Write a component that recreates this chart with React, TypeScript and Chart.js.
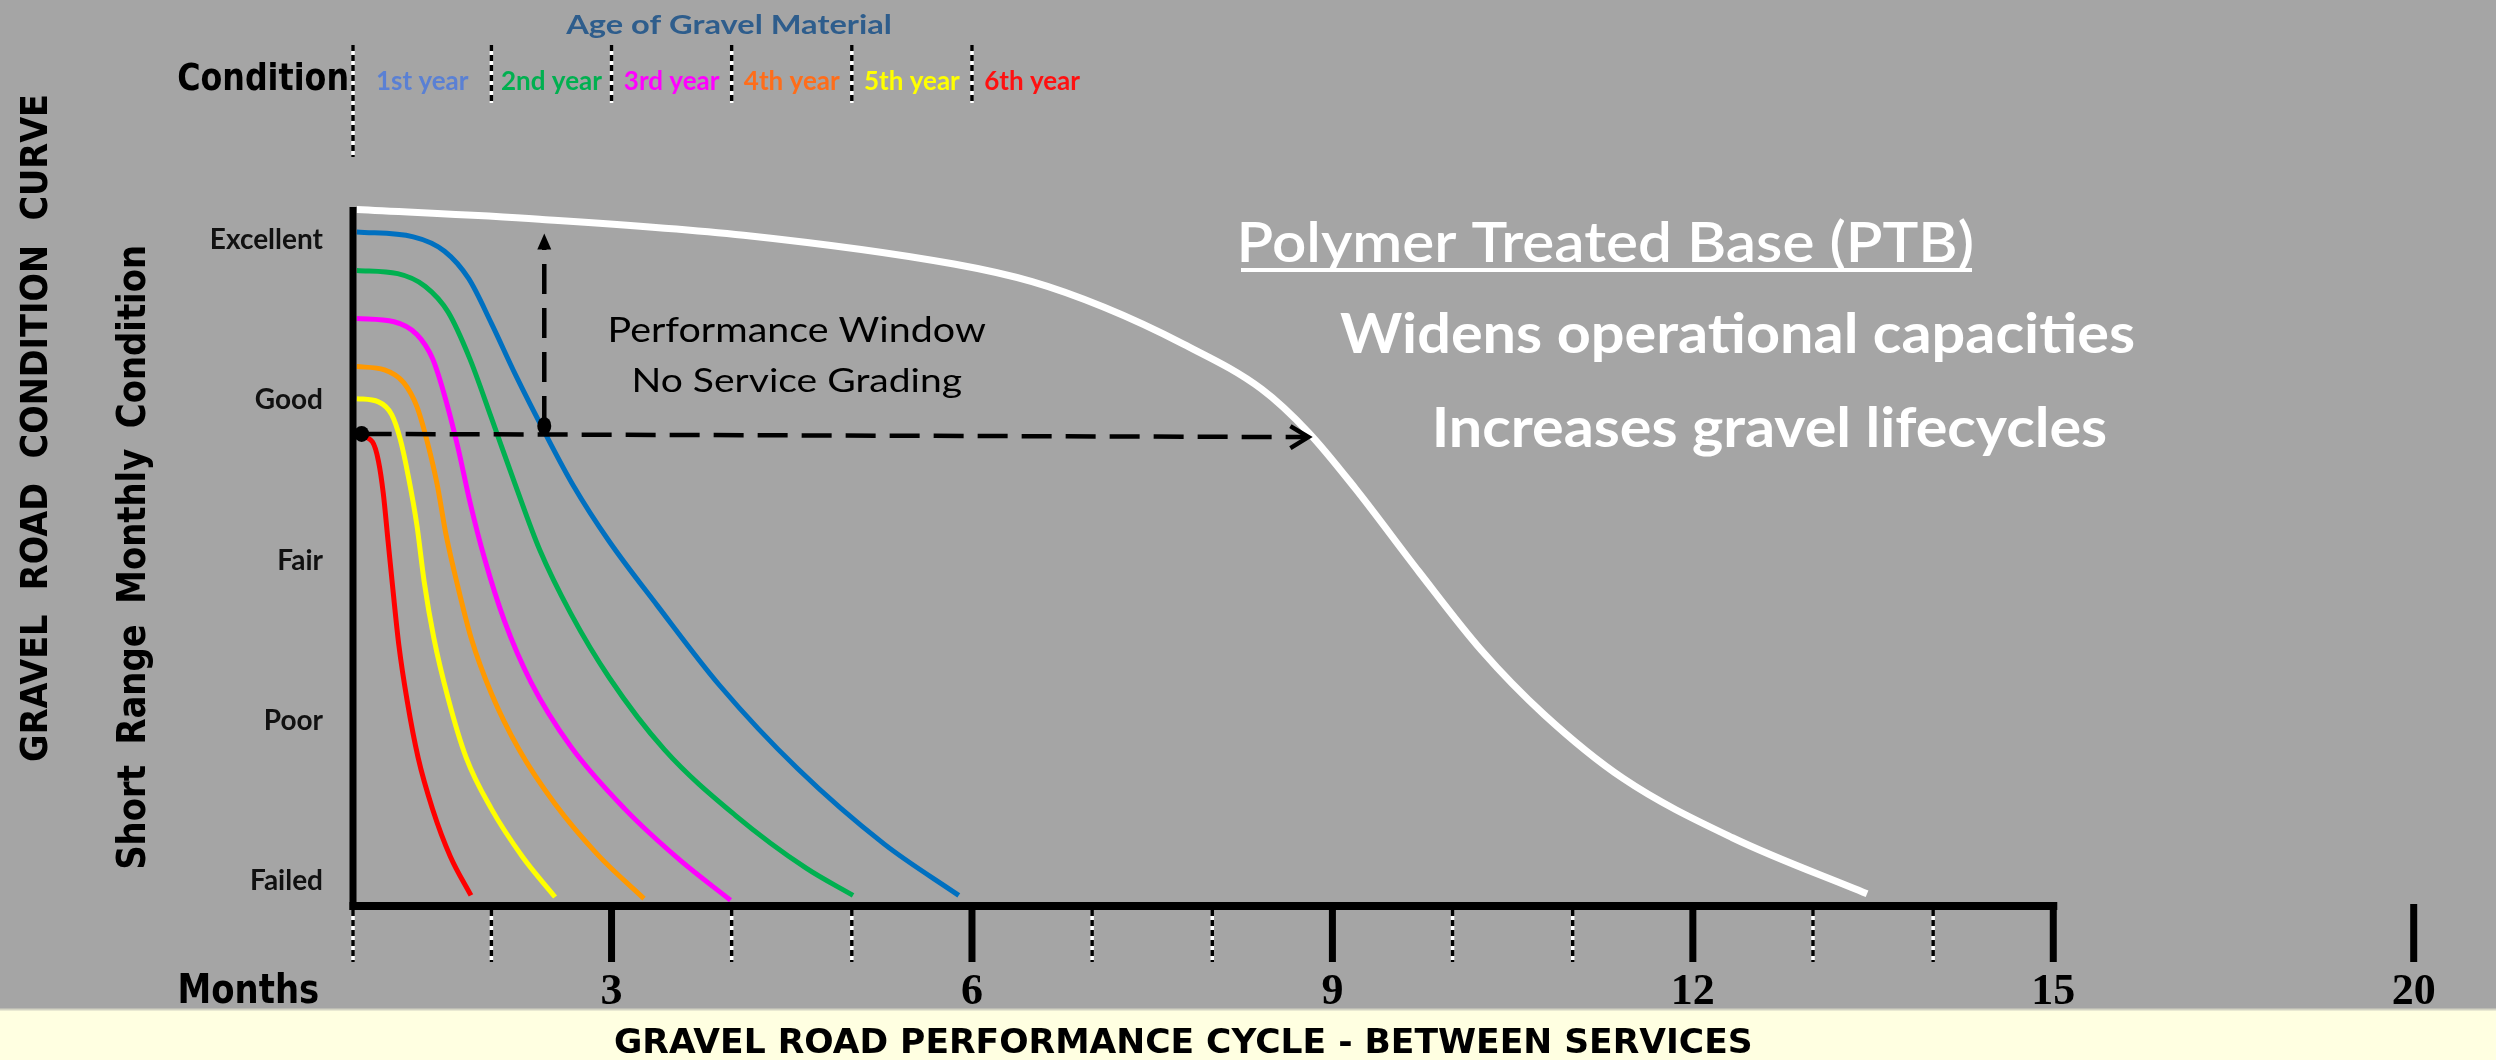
import React, { useEffect, useRef } from "react";
import { Chart, registerables } from "chart.js";

Chart.register(...registerables);

// ---------- axis ranges ----------
const X_MIN = 0.848;
const X_MAX = 18.32;
const Y_MIN = -0.156;
const Y_MAX = 4.206;

// ---------- tick labels ----------
const conditionValues = [0, 1, 2, 3, 4];
const conditionLabels = ["Failed", "Poor", "Fair", "Good", "Excellent"];
const monthTicks = [3, 6, 9, 12, 15, 18];
const monthTickLabels = ["3", "6", "9", "12", "15", "20"];
const minorMonthTicks = [X_MIN, 2, 4, 5, 7, 8, 10, 11, 13, 14];

// ---------- legend (age of gravel) ----------
const yearLabels = ["1st year", "2nd year", "3rd year", "4th year", "5th year", "6th year"];
const yearTextColors = ["#5a80d4", "#00b050", "#ff00ff", "#ff6d1a", "#ffff00", "#ff1010"];
const yearBounds = [X_MIN, 2, 3, 4, 5, 6, 7];

// ---------- series: [month, condition] ----------
const ptbCurve = [
  [0.88, 4.19], [2.4, 4.13], [4.1, 4.03], [5.85, 3.85], [6.5, 3.74], [7.1, 3.58],
  [7.76, 3.35], [8.41, 3.07], [8.8, 2.8], [9.19, 2.45], [9.72, 1.93], [10.24, 1.44],
  [10.76, 1.04], [11.42, 0.64], [12.33, 0.27], [13.45, -0.08],
];
const year1Curve = [
  [0.88, 4.05], [1.35, 4.02], [1.61, 3.93], [1.81, 3.76], [2.0, 3.48], [2.2, 3.16],
  [2.45, 2.79], [2.68, 2.47], [2.98, 2.12], [3.38, 1.72], [3.9, 1.22], [4.55, 0.7],
  [5.27, 0.23], [5.89, -0.09],
];
const year2Curve = [
  [0.88, 3.81], [1.22, 3.79], [1.45, 3.71], [1.64, 3.55], [1.82, 3.26], [2.0, 2.89],
  [2.2, 2.47], [2.4, 2.07], [2.66, 1.67], [2.98, 1.27], [3.44, 0.82], [4.03, 0.41],
  [4.62, 0.08], [5.01, -0.09],
];
const year3Curve = [
  [0.88, 3.51], [1.19, 3.49], [1.38, 3.41], [1.51, 3.26], [1.61, 3.03], [1.72, 2.71],
  [1.82, 2.37], [1.94, 2.02], [2.11, 1.62], [2.33, 1.24], [2.66, 0.84], [3.11, 0.45],
  [3.57, 0.13], [3.99, -0.12],
];
const year4Curve = [
  [0.88, 3.21], [1.11, 3.19], [1.27, 3.11], [1.38, 2.96], [1.47, 2.73], [1.55, 2.47],
  [1.62, 2.17], [1.72, 1.84], [1.83, 1.52], [2.0, 1.17], [2.23, 0.82], [2.53, 0.48],
  [2.89, 0.16], [3.27, -0.11],
];
const year5Curve = [
  [0.88, 3.01], [1.06, 2.99], [1.17, 2.91], [1.24, 2.76], [1.31, 2.52], [1.38, 2.22],
  [1.44, 1.87], [1.52, 1.52], [1.64, 1.14], [1.79, 0.77], [2.0, 0.45], [2.26, 0.15],
  [2.53, -0.1],
];
const year6Curve = [
  [0.9, 2.78], [1.01, 2.74], [1.06, 2.62], [1.1, 2.42], [1.14, 2.12], [1.18, 1.82],
  [1.23, 1.47], [1.3, 1.12], [1.39, 0.77], [1.51, 0.45], [1.66, 0.15], [1.83, -0.09],
];

const seriesList = [
  { label: "PTB", data: ptbCurve, color: "#ffffff", width: 7 },
  { label: "1st year", data: year1Curve, color: "#0070c0", width: 5 },
  { label: "2nd year", data: year2Curve, color: "#00b050", width: 5 },
  { label: "3rd year", data: year3Curve, color: "#ff00ff", width: 5 },
  { label: "4th year", data: year4Curve, color: "#ff9900", width: 5 },
  { label: "5th year", data: year5Curve, color: "#ffff00", width: 5 },
  { label: "6th year", data: year6Curve, color: "#ff0000", width: 5 },
];

// ---------- performance window annotation (data units) ----------
const windowHorizontal = [[0.92, 2.79], [8.8, 2.77]];
const windowVertical = [[2.44, 2.84], [2.44, 4.04]];

function drawFitted(
  ctx: CanvasRenderingContext2D,
  text: string,
  x: number,
  y: number,
  length: number,
  cap: number,
  weight: string,
  family: string,
  color: string,
  rotated = false,
  wordSpacing = "0px"
) {
  ctx.save();
  ctx.textAlign = "left";
  ctx.textBaseline = "alphabetic";
  ctx.font = `${weight} 100px ${family}`;
  const capRatio = ctx.measureText("H").actualBoundingBoxAscent / 100;
  const size = cap / capRatio;
  ctx.font = `${weight} ${size}px ${family}`;
  (ctx as any).wordSpacing = wordSpacing;
  const m = ctx.measureText(text);
  const ink = m.actualBoundingBoxLeft + m.actualBoundingBoxRight;
  const sx = length / ink;
  ctx.translate(x, y);
  if (rotated) ctx.rotate(-Math.PI / 2);
  ctx.scale(sx, 1);
  ctx.fillStyle = color;
  ctx.fillText(text, m.actualBoundingBoxLeft, 0);
  ctx.restore();
}

const decorPlugin = {
  id: "decor",
  beforeDraw(chart: any) {
    const { ctx, width, height } = chart;
    ctx.save();
    ctx.fillStyle = "#a5a5a5";
    ctx.fillRect(0, 0, width, height);
    ctx.fillStyle = "#ffffe1";
    ctx.fillRect(0, 1010, width, height - 1010);
    ctx.fillStyle = "#d4d4c4";
    ctx.fillRect(0, 1008.5, width, 2);
    ctx.restore();
  },
  afterDatasetsDraw(chart: any) {
    const { ctx, chartArea } = chart;
    const xs = chart.scales.x;
    const ys = chart.scales.y;
    const px = (v: number) => xs.getPixelForValue(v);
    const py = (v: number) => ys.getPixelForValue(v);
    const bottom = chartArea.bottom;
    const left = chartArea.left;

    ctx.save();
    // ---- axes ----
    ctx.strokeStyle = "#000";
    ctx.lineCap = "butt";
    ctx.lineWidth = 7;
    ctx.beginPath();
    ctx.moveTo(left, chartArea.top);
    ctx.lineTo(left, bottom + 4);
    ctx.stroke();
    ctx.lineWidth = 8;
    ctx.beginPath();
    ctx.moveTo(left - 3.5, bottom);
    ctx.lineTo(px(15) + 4, bottom);
    ctx.stroke();

    // ---- major ticks ----
    ctx.lineWidth = 7;
    monthTicks.forEach((v) => {
      const x = px(v);
      ctx.beginPath();
      ctx.moveTo(x, v === 18 ? bottom - 2 : bottom);
      ctx.lineTo(x, bottom + 56);
      ctx.stroke();
    });

    // ---- minor (dashed) ticks ----
    const dashedLine = (x: number, y0: number, y1: number) => {
      ctx.save();
      ctx.lineWidth = 3.5;
      ctx.strokeStyle = "#ffffff";
      ctx.setLineDash([]);
      ctx.beginPath();
      ctx.moveTo(x, y0);
      ctx.lineTo(x, y1);
      ctx.stroke();
      ctx.strokeStyle = "#000";
      ctx.setLineDash([6, 4]);
      ctx.beginPath();
      ctx.moveTo(x, y0);
      ctx.lineTo(x, y1);
      ctx.stroke();
      ctx.restore();
    };
    minorMonthTicks.forEach((v) => dashedLine(px(v), bottom + 4, bottom + 56));

    // ---- legend header ----
    yearBounds.slice(0, 6).forEach((v, i) => dashedLine(px(v), 45, i === 0 ? 157 : 103));
    ctx.save();
    ctx.font = "bold 26px Lato";
    ctx.textAlign = "center";
    ctx.textBaseline = "alphabetic";
    yearLabels.forEach((t, i) => {
      ctx.fillStyle = yearTextColors[i];
      ctx.fillText(t, (px(yearBounds[i]) + px(yearBounds[i + 1])) / 2, 90);
    });
    ctx.restore();
    drawFitted(ctx, "Age of Gravel Material", 565, 34, 326, 20, "bold", "Lato", "#2e5d8c");
    drawFitted(ctx, "Condition", 178, 90, 169, 27, "bold", "'DejaVu Sans'", "#000");

    // ---- performance window arrows ----
    ctx.strokeStyle = "#000";
    ctx.fillStyle = "#000";
    ctx.lineWidth = 4.5;
    ctx.setLineDash([30, 14]);
    const h0x = px(windowHorizontal[0][0]);
    const h0y = py(windowHorizontal[0][1]);
    const h1x = px(windowHorizontal[1][0]);
    const h1y = py(windowHorizontal[1][1]);
    ctx.beginPath();
    ctx.moveTo(h0x, h0y);
    ctx.lineTo(h1x - 3, h1y);
    ctx.stroke();
    const v0x = px(windowVertical[0][0]);
    const v0y = py(windowVertical[0][1]);
    const v1y = py(windowVertical[1][1]);
    ctx.beginPath();
    ctx.moveTo(v0x, v0y);
    ctx.lineTo(v0x, v1y + 14);
    ctx.stroke();
    ctx.setLineDash([]);
    ctx.lineWidth = 4.5;
    ctx.lineJoin = "miter";
    ctx.beginPath();
    ctx.moveTo(h1x - 18, h1y - 11);
    ctx.lineTo(h1x, h1y);
    ctx.lineTo(h1x - 18, h1y + 11);
    ctx.stroke();
    ctx.beginPath();
    ctx.moveTo(v0x, v1y);
    ctx.lineTo(v0x - 7, v1y + 16);
    ctx.lineTo(v0x + 7, v1y + 16);
    ctx.closePath();
    ctx.fill();
    ctx.beginPath();
    ctx.ellipse(h0x, h0y, 7.5, 8, 0, 0, Math.PI * 2);
    ctx.fill();
    ctx.beginPath();
    ctx.ellipse(v0x, v0y, 7, 9, 0, 0, Math.PI * 2);
    ctx.fill();

    // ---- texts ----
    drawFitted(ctx, "Performance Window", 611, 342, 375, 25, "normal", "Lato", "#000");
    drawFitted(ctx, "No Service Grading", 635, 392, 327, 24, "normal", "Lato", "#000");
    drawFitted(ctx, "Polymer Treated Base (PTB)", 1241, 262, 731, 40, "600", "Lato", "#fff");
    ctx.fillStyle = "#fff";
    ctx.fillRect(1241, 268, 731, 4);
    drawFitted(ctx, "Widens operational capacities", 1340, 353, 794, 40, "bold", "Lato", "#fff");
    drawFitted(ctx, "Increases gravel lifecycles", 1436, 447, 670, 40, "bold", "Lato", "#fff");

    drawFitted(ctx, "Months", 180, 1003, 138, 30, "bold", "'DejaVu Sans'", "#000");
    drawFitted(
      ctx,
      "GRAVEL ROAD PERFORMANCE CYCLE - BETWEEN SERVICES",
      615, 1053, 1136, 25, "bold", "'DejaVu Sans'", "#000"
    );
    drawFitted(ctx, "GRAVEL ROAD CONDITION CURVE", 47, 761, 665, 27, "bold", "'DejaVu Sans'", "#000", true, "14px");
    drawFitted(ctx, "Short Range Monthly Condition", 145, 868, 621, 28, "bold", "'DejaVu Sans'", "#000", true, "10px");
    ctx.restore();
  },
};

export default function App() {
  const canvasRef = useRef<HTMLCanvasElement | null>(null);

  useEffect(() => {
    const canvas = canvasRef.current;
    if (!canvas) return;
    const chart = new Chart(canvas, {
      type: "line",
      data: {
        datasets: seriesList.map((s) => ({
          label: s.label,
          data: s.data.map(([x, y]) => ({ x, y })),
          borderColor: s.color,
          backgroundColor: s.color,
          borderWidth: s.width,
          pointRadius: 0,
          cubicInterpolationMode: "monotone",
          fill: false,
          clip: false,
          borderCapStyle: "butt",
        })),
      },
      options: {
        animation: false,
        responsive: false,
        maintainAspectRatio: false,
        devicePixelRatio: 1,
        events: [],
        layout: { padding: { top: 207, right: 16, bottom: 0, left: 0 } },
        plugins: { legend: { display: false }, tooltip: { enabled: false }, title: { display: false } },
        scales: {
          x: {
            type: "linear",
            min: X_MIN,
            max: X_MAX,
            afterBuildTicks: (s: any) => {
              s.ticks = monthTicks.map((v) => ({ value: v }));
            },
            afterFit: (s: any) => {
              s.height = 154;
            },
            ticks: {
              callback: (_v: any, i: number) => monthTickLabels[i],
              autoSkip: false,
              maxRotation: 0,
              minRotation: 0,
              padding: 60,
              color: "#000",
              font: { family: "'Liberation Serif'", size: 44, weight: "bold" },
            },
            grid: { display: false, drawTicks: false },
            border: { display: false },
          },
          y: {
            type: "linear",
            min: Y_MIN,
            max: Y_MAX,
            afterBuildTicks: (s: any) => {
              s.ticks = conditionValues.map((v) => ({ value: v }));
            },
            afterFit: (s: any) => {
              s.width = 353;
            },
            ticks: {
              callback: (_v: any, i: number) => conditionLabels[i],
              padding: 30,
              color: "#111",
              font: { family: "Lato", size: 28, weight: "bold" },
            },
            grid: { display: false, drawTicks: false },
            border: { display: false },
          },
        },
      },
      plugins: [decorPlugin],
    } as any);
    return () => chart.destroy();
  }, []);

  return (
    <div style={{ position: "absolute", left: 0, top: 0, width: 2496, height: 1060 }}>
      <canvas
        ref={canvasRef}
        width={2496}
        height={1060}
        style={{ display: "block", width: 2496, height: 1060 }}
      />
    </div>
  );
}
